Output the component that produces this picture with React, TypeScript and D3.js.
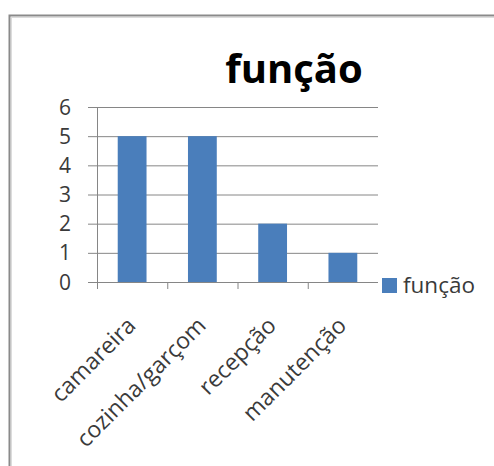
import * as d3 from "d3";

const categories = ["camareira", "cozinha/garçom", "recepção", "manutenção"];
const values = [5, 5, 2, 1];
const yTicks = [0, 1, 2, 3, 4, 5, 6];
const seriesName = "função";
const title = "função";

const W = 494;
const H = 466;
const plot = { left: 97, right: 378, top: 107, bottom: 282 };
const font = "'Open Sans', 'Liberation Sans', sans-serif";
const barColor = "#4a7ebb";
const gridColor = "#868686";
const textColor = "#3a3a3a";

export default function App() {
  const x = d3.scaleBand().domain(categories).range([plot.left, plot.right]).paddingInner(0.59).paddingOuter(0.295);
  const xb = d3.scaleBand().domain(categories).range([plot.left, plot.right]);
  const y = d3.scaleLinear().domain([0, 6]).range([plot.bottom, plot.top]);

  return (
    <svg width={W} height={H} style={{ position: "absolute", left: 0, top: 0, background: "#fff" }} fontFamily={font}>
      <rect x={9.5} y={15.5} width={600} height={600} fill="#fff" stroke="#8a8a8a" strokeWidth={2} />
      <rect x={11.5} y={17.5} width={600} height={600} fill="none" stroke="#dcdcdc" strokeWidth={1} />

      <text x={294} y={83} textAnchor="middle" fontSize={40} fontWeight={700} fill="#000">{title}</text>

      {yTicks.map((t) => (
        <g key={t}>
          <line x1={plot.left - 9} x2={plot.right} y1={y(t) + 0.5} y2={y(t) + 0.5} stroke={gridColor} strokeWidth={1} />
          <text x={71} y={y(t)} dy="0.36em" textAnchor="end" fontSize={21} fill={textColor}>{t}</text>
        </g>
      ))}

      <line x1={plot.left + 0.5} x2={plot.left + 0.5} y1={plot.top} y2={plot.bottom + 7} stroke={gridColor} />
      {categories.map((c) => (
        <line key={c} x1={(xb(c) || 0) + 0.5} x2={(xb(c) || 0) + 0.5} y1={plot.bottom} y2={plot.bottom + 7} stroke={gridColor} />
      ))}

      {categories.map((c, i) => (
        <rect key={c} x={x(c)} y={y(values[i])} width={x.bandwidth()} height={y(0) - y(values[i])} fill={barColor} />
      ))}

      {categories.map((c) => {
        const cx = (xb(c) || 0) + xb.bandwidth() / 2 + 5;
        const cy = plot.bottom + 45;
        return (
          <text key={c} transform={`translate(${cx},${cy}) rotate(-45)`} textAnchor="end" fontSize={23} fill={textColor}>{c}</text>
        );
      })}

      <rect x={382} y={278} width={15} height={15} fill={barColor} />
      <text x={403} y={293} fontSize={22.5} fill={textColor}>{seriesName}</text>
    </svg>
  );
}
